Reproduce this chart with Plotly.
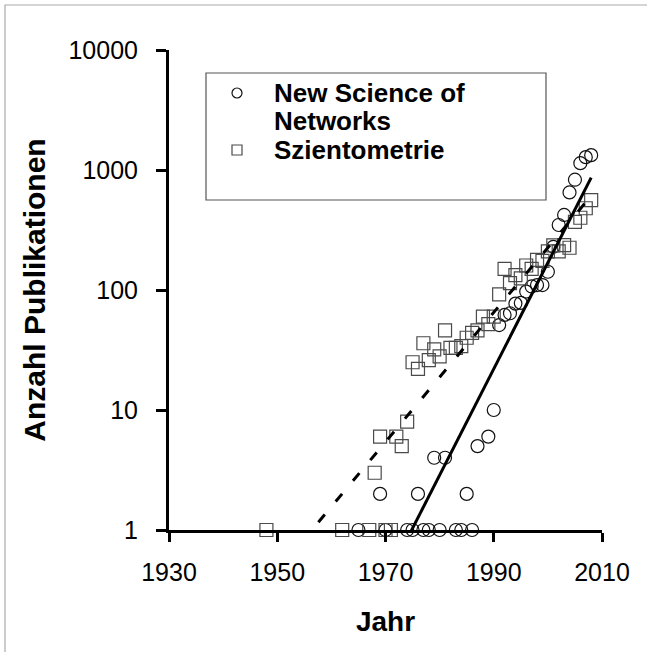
import numpy as np
import plotly.graph_objects as go

# ---- data ----
nsn_years = [1965, 1969, 1970, 1974, 1975, 1976, 1977, 1978, 1979, 1980, 1981, 1983,
             1984, 1985, 1986, 1987, 1989, 1990, 1991, 1992, 1993, 1994, 1995, 1996,
             1997, 1998, 1999, 2000, 2001, 2002, 2003, 2004, 2005, 2006, 2007, 2008]
nsn_counts = [1, 2, 1, 1, 1, 2, 1, 1, 4, 1, 4, 1,
              1, 2, 1, 5, 6, 10, 51, 62, 64, 77, 78, 97,
              107, 110, 110, 142, 229, 348, 422, 650, 830, 1140, 1280, 1330]

szi_years = [1948, 1962, 1967, 1968, 1969, 1970, 1971, 1972, 1973, 1974, 1975, 1976,
             1977, 1978, 1979, 1980, 1981, 1982, 1983, 1984, 1985, 1986, 1987, 1988,
             1989, 1990, 1991, 1992, 1993, 1994, 1995, 1996, 1997, 1998, 1999, 2000,
             2001, 2002, 2003, 2004, 2005, 2006, 2007, 2008]
szi_counts = [1, 1, 1, 3, 6, 1, 1, 6, 5, 8, 25, 22,
              36, 26, 32, 28, 46, 33, 33, 34, 40, 44, 46, 60,
              52, 60, 92, 150, 114, 133, 125, 160, 150, 178, 175, 210,
              235, 210, 237, 225, 370, 400, 480, 560]

x_ticks = [1930, 1950, 1970, 1990, 2010]
y_ticks = [1, 10, 100, 1000, 10000]
y_ticktext = ["1", "10", "100", "1000", "10000"]

legend_lines = ["New Science of", "Networks", "Szientometrie"]
x_title = "Jahr"
y_title = "Anzahl Publikationen"

FONT = "Arial, 'Liberation Sans', sans-serif"

# ---- layout geometry (pixels in the 647x652 window) ----
W, H = 647, 652
PL, PR, PT, PB = 169, 602, 50, 530          # plot area edges


def px(xp):
    return (xp - PL) / (PR - PL)


def py(yp):
    return (PB - yp) / (PB - PT)


def exp_trend(years, counts):
    """Exponential trendline (least squares on log10), as a spreadsheet would draw it."""
    x = np.asarray(years, dtype=float)
    y = np.log10(np.asarray(counts, dtype=float))
    b, a = np.polyfit(x, y, 1)
    xs = np.linspace(x.min(), x.max(), 200)
    return xs, 10 ** (a + b * xs)


fig = go.Figure()

fig.add_trace(go.Scatter(
    x=nsn_years, y=nsn_counts, mode="markers", name="New Science of Networks",
    showlegend=False, cliponaxis=False,
    marker=dict(symbol="circle-open", size=13, color="#111111", line=dict(width=1.2)),
))
fig.add_trace(go.Scatter(
    x=szi_years, y=szi_counts, mode="markers", name="Szientometrie",
    showlegend=False, cliponaxis=False,
    marker=dict(symbol="square-open", size=13, color="#4a4a4a", line=dict(width=1.2)),
))

tx, ty = exp_trend(nsn_years, nsn_counts)
fig.add_trace(go.Scatter(x=tx, y=ty, mode="lines", showlegend=False, hoverinfo="skip",
                         line=dict(color="black", width=3)))
tx, ty = exp_trend(szi_years, szi_counts)
fig.add_trace(go.Scatter(x=tx, y=ty, mode="lines", showlegend=False, hoverinfo="skip",
                         line=dict(color="black", width=3, dash="10px,17px")))

shapes = [
    # outer chart frame (runs off the right and bottom of the window)
    dict(type="rect", xref="paper", yref="paper", x0=px(5), x1=px(720), y0=py(720), y1=py(5),
         line=dict(color="#aaaaaa", width=1.2), layer="below"),
    # legend box
    dict(type="rect", xref="paper", yref="paper", x0=px(206), x1=px(546), y0=py(200), y1=py(73),
         line=dict(color="#555555", width=1.2), fillcolor="white", layer="below"),
    # legend symbols
    dict(type="circle", xref="paper", yref="paper", xsizemode="pixel", ysizemode="pixel",
         xanchor=px(237), yanchor=py(93), x0=-5, x1=5, y0=-5, y1=5,
         line=dict(color="#111111", width=1.2)),
    dict(type="rect", xref="paper", yref="paper", xsizemode="pixel", ysizemode="pixel",
         xanchor=px(237), yanchor=py(150), x0=-5, x1=5, y0=-5, y1=5,
         line=dict(color="#4a4a4a", width=1.2)),
]

annotations = []
for text, ypix in zip(legend_lines, [93, 121, 150]):
    annotations.append(dict(text=text, xref="paper", yref="paper", x=px(272), y=py(ypix),
                            xanchor="left", yanchor="middle", showarrow=False,
                            font=dict(family=FONT, size=26, color="black", weight="bold")))

fig.update_layout(
    width=W, height=H,
    margin=dict(l=PL, r=W - PR, t=PT, b=H - PB),
    paper_bgcolor="white", plot_bgcolor="white",
    font=dict(family=FONT, color="black", size=25),
    showlegend=False,
    shapes=shapes, annotations=annotations,
)

fig.update_xaxes(
    range=[1930, 2010], tickmode="array", tickvals=x_ticks,
    showline=True, linecolor="black", linewidth=3,
    ticks="outside", ticklen=9, tickwidth=3, tickcolor="black",
    showgrid=False, zeroline=False, ticklabelstandoff=9,
    tickfont=dict(family=FONT, size=25),
    title=dict(text=x_title, standoff=27,
               font=dict(family=FONT, size=28, weight="bold")),
)
fig.update_yaxes(
    type="log", range=[0, 4], tickmode="array", tickvals=y_ticks, ticktext=y_ticktext,
    showline=True, linecolor="black", linewidth=3,
    ticks="outside", ticklen=10, tickwidth=3, tickcolor="black",
    showgrid=False, zeroline=False, ticklabelstandoff=13,
    tickfont=dict(family=FONT, size=25),
    title=dict(text=y_title, standoff=14,
               font=dict(family=FONT, size=30, weight="bold")),
)

fig.write_html("out.html", config={"displayModeBar": False},
               post_script="document.body.style.margin='0';document.body.style.overflow='hidden';")
